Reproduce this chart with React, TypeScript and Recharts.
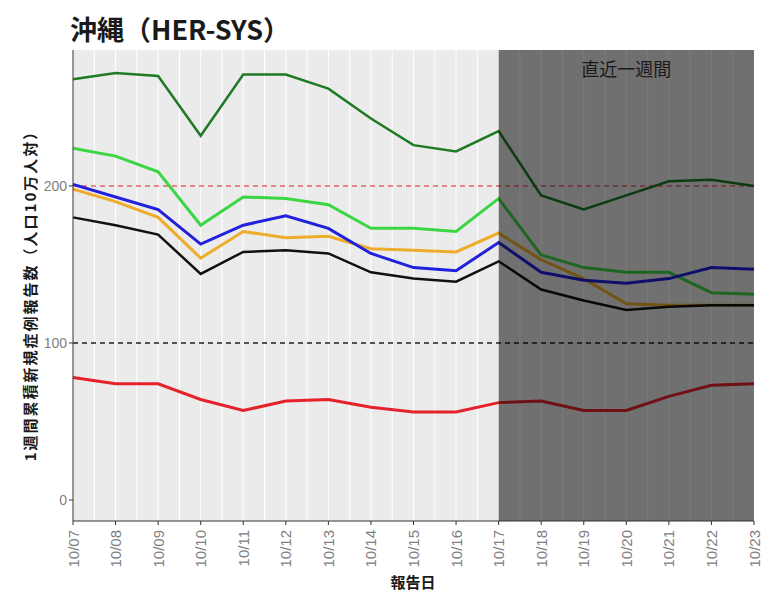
import React from 'react';
import {
    LineChart,
    Line,
    XAxis,
    YAxis,
    CartesianGrid,
    ReferenceLine,
    ReferenceArea
} from 'recharts';

const dates = ['10/07', '10/08', '10/09', '10/10', '10/11', '10/12', '10/13', '10/14', '10/15',
    '10/16', '10/17', '10/18', '10/19', '10/20', '10/21', '10/22', '10/23'];

const darkGreen = [268, 272, 270, 232, 271, 271, 262, 243, 226, 222, 235, 194, 185, 194, 203, 204, 200];
const lightGreen = [224, 219, 209, 175, 193, 192, 188, 173, 173, 171, 192, 156, 148, 145, 145, 132, 131];
const blue = [201, 193, 185, 163, 175, 181, 173, 157, 148, 146, 164, 145, 140, 138, 141, 148, 147];
const orange = [198, 190, 180, 154, 171, 167, 168, 160, 159, 158, 170, 153, 141, 125, 124, 124, 124];
const black = [180, 175, 169, 144, 158, 159, 157, 145, 141, 139, 152, 134, 127, 121, 123, 124, 124];
const red = [78, 74, 74, 64, 57, 63, 64, 59, 56, 56, 62, 63, 57, 57, 66, 73, 74];

const yTicks = [0, 100, 200];
const recentStart = '10/17';
const recentEnd = '10/23';

const series = [
    { key: 'darkGreen', color: '#1f7a24', values: darkGreen, width: 2.5 },
    { key: 'lightGreen', color: '#3cd645', values: lightGreen, width: 3 },
    { key: 'orange', color: '#eeac2c', values: orange, width: 3 },
    { key: 'blue', color: '#2121dc', values: blue, width: 3 },
    { key: 'black', color: '#111111', values: black, width: 2.5 },
    { key: 'red', color: '#e5222b', values: red, width: 3 }
];

const data = dates.map((d, i) => {
    const row: any = { date: d };
    series.forEach(s => { row[s.key] = s.values[i]; });
    return row;
});

const sans = '"Liberation Sans", Arial, "Noto Sans CJK JP", sans-serif';
const jp = '"Noto Sans CJK JP", "Liberation Sans", sans-serif';

// rotated date labels, reading bottom to top
const DateTick = ({ x, y, payload }: any) => (
    <text
        x={x}
        y={y + 3}
        transform={`rotate(-90, ${x}, ${y + 3})`}
        textAnchor="end"
        dominantBaseline="central"
        fill="#808080"
        fontSize={15}
        fontFamily={sans}
    >
        {payload.value}
    </text>
);

export default function App() {
    return (
        <div style={{ position: 'absolute', left: 0, top: 0, width: 779, height: 596, background: '#fff' }}>
            <div style={{
                position: 'absolute', left: 70, top: 12, fontSize: 27, fontWeight: 'bold',
                fontFamily: jp, color: '#1a1a1a', lineHeight: '34px'
            }}>
                沖縄（HER-SYS）
            </div>
            <div style={{
                position: 'absolute', left: 29, top: 292, width: 0, height: 0
            }}>
                <div style={{
                    position: 'absolute', transform: 'translate(-50%, -50%) rotate(-90deg)',
                    whiteSpace: 'nowrap', fontSize: 15, letterSpacing: 2, fontWeight: 'bold',
                    fontFamily: jp, color: '#1a1a1a'
                }}>
                    1週間累積新規症例報告数（人口10万人対）
                </div>
            </div>
            <div style={{
                position: 'absolute', left: 413, top: 581, width: 0, height: 0
            }}>
                <div style={{
                    position: 'absolute', transform: 'translate(-50%, -50%)',
                    whiteSpace: 'nowrap', fontSize: 15, fontWeight: 'bold', fontFamily: jp, color: '#1a1a1a'
                }}>
                    報告日
                </div>
            </div>

            <LineChart
                width={779}
                height={596}
                data={data}
                margin={{ top: 50, right: 25, bottom: 0, left: 33 }}
            >
                <CartesianGrid
                    horizontal={false}
                    fill="#ebebeb"
                    stroke="#ffffff"
                    strokeWidth={1}
                    verticalCoordinatesGenerator={({ offset }: any) => {
                        const n = (dates.length - 1) * 2;
                        return Array.from({ length: n + 1 }, (_, i) => offset.left + (offset.width * i) / n);
                    }}
                />
                <XAxis
                    dataKey="date"
                    interval={0}
                    padding={{ left: 0, right: 0 }}
                    axisLine={{ stroke: '#333333', strokeWidth: 1 }}
                    tickLine={{ stroke: '#333333' }}
                    tickSize={4}
                    height={75}
                    tick={<DateTick />}
                />
                <YAxis
                    width={40}
                    domain={[-13.4, 286.6]}
                    ticks={yTicks}
                    allowDataOverflow
                    axisLine={{ stroke: '#333333', strokeWidth: 1 }}
                    tickLine={{ stroke: '#333333' }}
                    tickSize={4}
                    tick={{ fill: '#808080', fontSize: 14, fontFamily: sans }}
                />

                <ReferenceLine y={200} stroke="#e7636b" strokeDasharray="5 4" strokeWidth={1.5} />
                <ReferenceLine y={100} stroke="#222222" strokeDasharray="5 4" strokeWidth={1.5} />

                {series.map(s => (
                    <Line
                        key={s.key}
                        type="linear"
                        dataKey={s.key}
                        stroke={s.color}
                        strokeWidth={s.width}
                        dot={false}
                        activeDot={false}
                        isAnimationActive={false}
                    />
                ))}

                {/* last week overlay */}
                <ReferenceArea
                    x1={recentStart}
                    x2={recentEnd}
                    fill="#000000"
                    fillOpacity={0.52}
                    stroke="none"
                    zIndex={450}
                    label={{
                        value: '直近一週間',
                        position: 'insideTop',
                        offset: 13,
                        fill: '#1a1a1a',
                        fontSize: 18,
                        fontFamily: jp
                    }}
                />
            </LineChart>
        </div>
    );
}
